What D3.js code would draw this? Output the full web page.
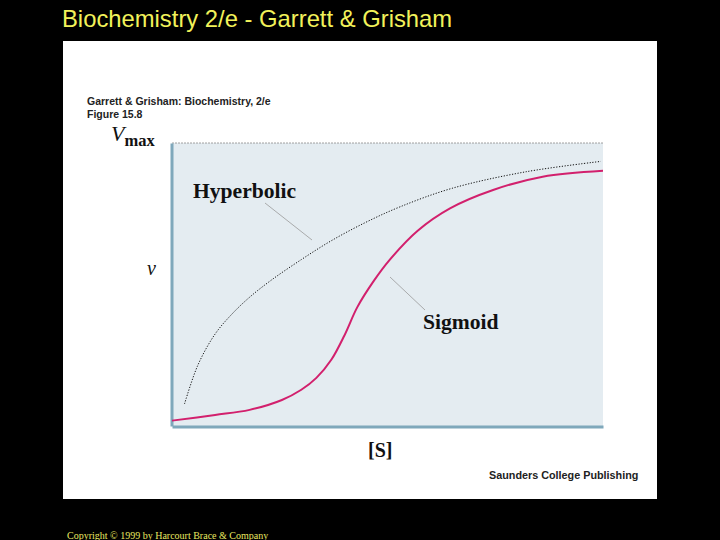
<!DOCTYPE html>
<html><head><meta charset="utf-8">
<script src="https://cdn.jsdelivr.net/npm/d3@7"></script>
<style>body{margin:0;background:#000;}svg{display:block;}</style>
</head><body>
<svg id="c" width="720" height="540"></svg>
<script>
// Data ([S] in arbitrary units 0-10, v as fraction of Vmax)
const hypS = [0.29, 0.6, 1.0, 1.4, 1.8, 2.3, 3.0, 3.7, 4.5, 5.3, 6.5, 8.2, 9.95];
const hypV = [0.078, 0.215, 0.325, 0.397, 0.455, 0.515, 0.588, 0.655, 0.72, 0.775, 0.84, 0.898, 0.935];
const sigS = [0, 1.0, 1.8, 2.55, 3.0, 3.35, 3.7, 4.0, 4.3, 4.67, 5.05, 5.7, 6.45, 7.45, 8.6, 10];
const sigV = [0.019, 0.039, 0.057, 0.092, 0.128, 0.17, 0.235, 0.32, 0.42, 0.51, 0.587, 0.69, 0.769, 0.834, 0.881, 0.902];
const labels = {title: "Biochemistry 2/e - Garrett & Grisham", src1: "Garrett & Grisham: Biochemistry, 2/e", src2: "Figure 15.8",
  hyper: "Hyperbolic", sigmoid: "Sigmoid", xlab: "[S]", ylab: "v", publisher: "Saunders College Publishing",
  copyright: "Copyright © 1999 by Harcourt Brace & Company"};

const svg = d3.select("#c");
svg.append("rect").attr("width",720).attr("height",540).attr("fill","#000");
svg.append("text").attr("x",62).attr("y",27).attr("fill","#f2f25a")
  .attr("font-family","Liberation Sans, Arial, sans-serif").attr("font-size",23.8).text(labels.title);
svg.append("rect").attr("x",63).attr("y",41).attr("width",594).attr("height",458).attr("fill","#fff");
svg.append("text").attr("x",67).attr("y",539).attr("fill","#e8e860")
  .attr("font-family","Liberation Serif, Times New Roman, serif").attr("font-size",10).text(labels.copyright);

const sans = "Liberation Sans, Arial, sans-serif", serif = "Liberation Serif, Times New Roman, serif";
svg.append("text").attr("x",87).attr("y",105).attr("font-family",sans).attr("font-weight","bold")
  .attr("font-size",10.5).attr("fill","#222").text(labels.src1);
svg.append("text").attr("x",87).attr("y",118).attr("font-family",sans).attr("font-weight","bold")
  .attr("font-size",10.5).attr("fill","#222").text(labels.src2);

const x = d3.scaleLinear().domain([0,10]).range([172,603]);
const y = d3.scaleLinear().domain([0,1]).range([426,143]);

// plot background
svg.append("rect").attr("x",x(0)).attr("y",y(1)).attr("width",x(10)-x(0)).attr("height",y(0)-y(1)).attr("fill","#e4ecf1");
// Vmax dashed line
svg.append("line").attr("x1",x(0)).attr("x2",x(10)).attr("y1",y(1)).attr("y2",y(1))
  .attr("stroke","#8a8a8a").attr("stroke-width",0.8).attr("stroke-dasharray","2,1");

// axes (no ticks) as domain lines
const gx = svg.append("g").attr("transform",`translate(0,${y(0)+0.5})`)
  .call(d3.axisBottom(x).tickValues([]).tickSizeOuter(0));
gx.select(".domain").attr("stroke","#7fa8bb").attr("stroke-width",3);
const gy = svg.append("g").attr("transform",`translate(${x(0)-0.5},0)`)
  .call(d3.axisLeft(y).tickValues([]).tickSizeOuter(0));
gy.select(".domain").attr("stroke","#7fa8bb").attr("stroke-width",3);

const line = d3.line().x(d=>x(d[0])).y(d=>y(d[1])).curve(d3.curveCatmullRom.alpha(0.5));
svg.append("path").datum(hypS.map((s,i)=>[s,hypV[i]])).attr("d",line)
  .attr("fill","none").attr("stroke","#111").attr("stroke-width",1).attr("stroke-dasharray","1.2,1.6");
svg.append("path").datum(sigS.map((s,i)=>[s,sigV[i]])).attr("d",line)
  .attr("fill","none").attr("stroke","#d2206d").attr("stroke-width",2);

// leader lines
svg.append("line").attr("x1",265).attr("y1",203).attr("x2",312).attr("y2",240).attr("stroke","#999").attr("stroke-width",0.8);
svg.append("line").attr("x1",390).attr("y1",277).attr("x2",425).attr("y2",310).attr("stroke","#999").attr("stroke-width",0.8);

svg.append("text").attr("x",193).attr("y",198).attr("font-family",serif).attr("font-weight","bold")
  .attr("font-size",21.6).attr("fill","#111").text(labels.hyper);
svg.append("text").attr("x",423).attr("y",329).attr("font-family",serif).attr("font-weight","bold")
  .attr("font-size",21.6).attr("fill","#111").text(labels.sigmoid);

// axis labels
const vm = svg.append("text").attr("x",111).attr("y",141).attr("font-family",serif).attr("fill","#111");
vm.append("tspan").attr("font-style","italic").attr("font-size",22).text("V");
vm.append("tspan").attr("font-weight","bold").attr("font-size",16.5).attr("dy",5).text("max");
svg.append("text").attr("x",147).attr("y",275).attr("font-family",serif).attr("font-style","italic")
  .attr("font-size",20).attr("fill","#111").text(labels.ylab);
svg.append("text").attr("x",368).attr("y",457).attr("font-family",serif).attr("font-weight","bold")
  .attr("font-size",20).attr("fill","#111").text(labels.xlab);
svg.append("text").attr("x",489).attr("y",479).attr("font-family",sans).attr("font-weight","bold")
  .attr("font-size",10.8).attr("fill","#222").text(labels.publisher);
</script>
</body></html>
